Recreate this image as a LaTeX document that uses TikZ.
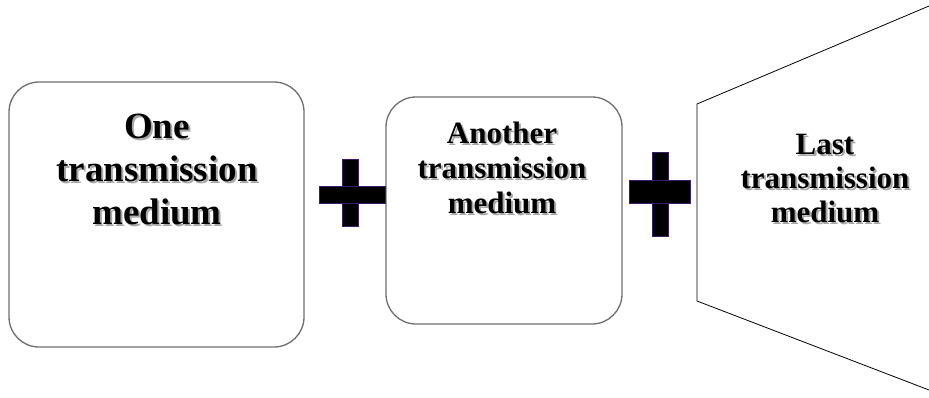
\documentclass[tikz,border=0pt]{standalone}
\usepackage{fontspec}
\setmainfont{Liberation Serif}
\definecolor{boxline}{HTML}{6E6E6E}
\definecolor{plusline}{HTML}{3A1A6A}
\definecolor{shadowc}{HTML}{A8A8A8}
\begin{document}
\begin{tikzpicture}[x=1pt,y=-1pt,
  medbox/.style={draw=boxline,line width=1.3pt,rounded corners=30pt},
  plusbar/.style={fill=black,draw=plusline,line width=0.8pt},
  lab/.style={align=center,inner sep=0pt,font=\bfseries},
  shad/.style={lab,text=shadowc}]
\useasboundingbox (0,0) rectangle (929,397);
% boxes
\draw[medbox] (9,82) rectangle (304,347);
\draw[medbox] (386,97) rectangle (622,324);
\draw[black,line width=0.8pt] (929,6) -- (697,104) -- (697,301) -- (929,390);
% plus signs
\fill[plusbar] (342,159) rectangle (358,226);
\fill[plusbar] (319,186) rectangle (385,203);
\fill[plusbar] (652,152) rectangle (668,236);
\fill[plusbar] (629,180) rectangle (690,203);
% labels
\node[shad,font=\bfseries\fontsize{37}{43}\selectfont] (t1s) at (159,171) {One\\transmission\\medium};
\node[lab,font=\bfseries\fontsize{37}{43}\selectfont] (t1) at (157,169) {One\\transmission\\medium};
\node[shad,font=\bfseries\fontsize{31}{35}\selectfont] (t2s) at (504,170) {Another\\transmission\\medium};
\node[lab,font=\bfseries\fontsize{31}{35}\selectfont] (t2) at (502,168) {Another\\transmission\\medium};
\node[shad,font=\bfseries\fontsize{31}{34}\selectfont] (t3s) at (827,181) {Last\\transmission\\medium};
\node[lab,font=\bfseries\fontsize{31}{34}\selectfont] (t3) at (825,179) {Last\\transmission\\medium};
\end{tikzpicture}
\end{document}
